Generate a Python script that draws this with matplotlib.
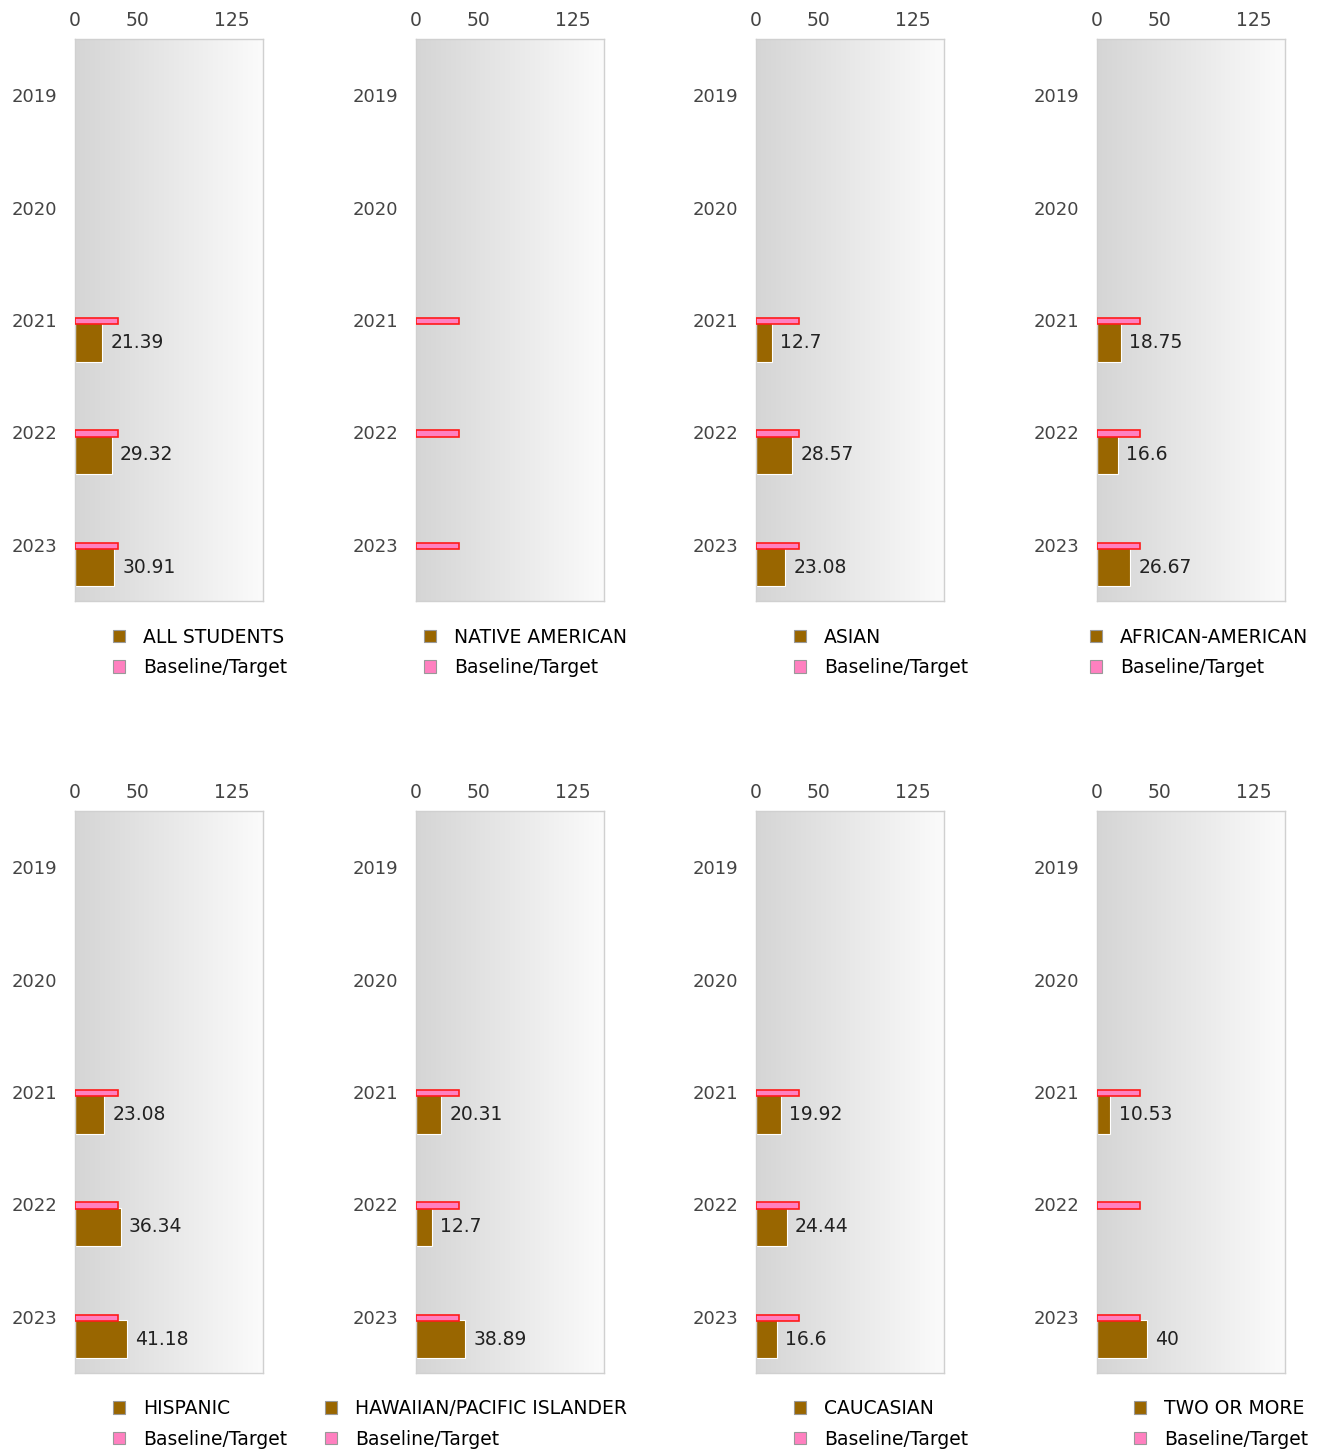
import matplotlib
matplotlib.use('Agg')
import matplotlib.pyplot as plt
import numpy as np
from matplotlib.patches import Patch
from matplotlib.colors import LinearSegmentedColormap

plt.rcParams['font.family'] = ['DejaVu Sans']

years = ['2019', '2020', '2021', '2022', '2023']
x_ticks = [0, 50, 125]
x_max = 150

groups = ['ALL STUDENTS', 'NATIVE AMERICAN', 'ASIAN', 'AFRICAN-AMERICAN',
          'HISPANIC', 'HAWAIIAN/PACIFIC ISLANDER', 'CAUCASIAN', 'TWO OR MORE']

all_students = [None, None, 21.39, 29.32, 30.91]
native_american = [None, None, None, None, None]
asian = [None, None, 12.7, 28.57, 23.08]
african_american = [None, None, 18.75, 16.6, 26.67]
hispanic = [None, None, 23.08, 36.34, 41.18]
hawaiian = [None, None, 20.31, 12.7, 38.89]
caucasian = [None, None, 19.92, 24.44, 16.6]
two_or_more = [None, None, 10.53, None, 40]
baseline_target = [None, None, 34, 34, 34]

series = [all_students, native_american, asian, african_american,
          hispanic, hawaiian, caucasian, two_or_more]

BROWN = '#996600'
PINK = '#ff80c0'
W, H = 1322, 1452
fig = plt.figure(figsize=(W / 100, H / 100), dpi=100)

col_left = [75, 416, 756, 1097]
row_top = [39, 811]
ax_w, ax_h = 188, 562
legend_right = [287, 627, 968, 1308]
legend_mid = [652.5, 1424]

grad = np.linspace(0, 1, 256).reshape(1, -1)
gcmap = LinearSegmentedColormap.from_list('g', ['#d5d5d5', '#fbfbfb'])

for k, (name, vals) in enumerate(zip(groups, series)):
    r, c = divmod(k, 4)
    left = col_left[c] / W
    bottom = 1 - (row_top[r] + ax_h) / H
    ax = fig.add_axes([left, bottom, ax_w / W, ax_h / H])
    ax.imshow(grad, cmap=gcmap, aspect='auto', extent=[0, 1, 0, 1],
              transform=ax.transAxes, zorder=0)
    ypos = np.arange(len(years))
    yv = [y + 0.2 for y, v in zip(ypos, vals) if v is not None]
    vv = [v for v in vals if v is not None]
    ax.barh(yv, vv, height=0.34, color=BROWN, edgecolor='white', linewidth=0.8, zorder=2)
    yb = [y + 0.01 for y, v in zip(ypos, baseline_target) if v is not None]
    bv = [v for v in baseline_target if v is not None]
    ax.barh(yb, bv, height=0.055, color=PINK, edgecolor='#ff1a1a', linewidth=1.2, zorder=3)
    for y, v in zip(yv, vv):
        ax.annotate(f'{v:g}', xy=(v, y), xytext=(6, 0), textcoords='offset points',
                    va='center', ha='left', fontsize=13.5, color='#222222', zorder=4)
    ax.set_xlim(0, x_max)
    ax.set_ylim(len(years) - 0.5, -0.5)
    ax.set_yticks(ypos)
    ax.set_yticklabels(years)
    ax.set_xticks(x_ticks)
    ax.set_xticklabels([str(t) for t in x_ticks])
    ax.xaxis.tick_top()
    ax.tick_params(axis='x', length=0, pad=6.5, labelsize=13.5, labelcolor='#444444')
    ax.tick_params(axis='y', length=0, pad=13, labelsize=13, labelcolor='#444444')
    for s in ax.spines.values():
        s.set_color('#d0d0d0')
        s.set_linewidth(1.0)
    handles = [Patch(facecolor=BROWN, edgecolor='#999999', linewidth=0.8),
               Patch(facecolor=PINK, edgecolor='#999999', linewidth=0.8)]
    fig.legend(handles, [name, 'Baseline/Target'], loc='center right',
               bbox_to_anchor=(legend_right[c] / W, 1 - legend_mid[r] / H),
               bbox_transform=fig.transFigure, frameon=False, fontsize=13.5,
               handlelength=0.65, handleheight=0.65, handletextpad=0.95,
               labelspacing=0.62, borderpad=0, borderaxespad=0)

fig.savefig('out.png', dpi=100, facecolor='white')
